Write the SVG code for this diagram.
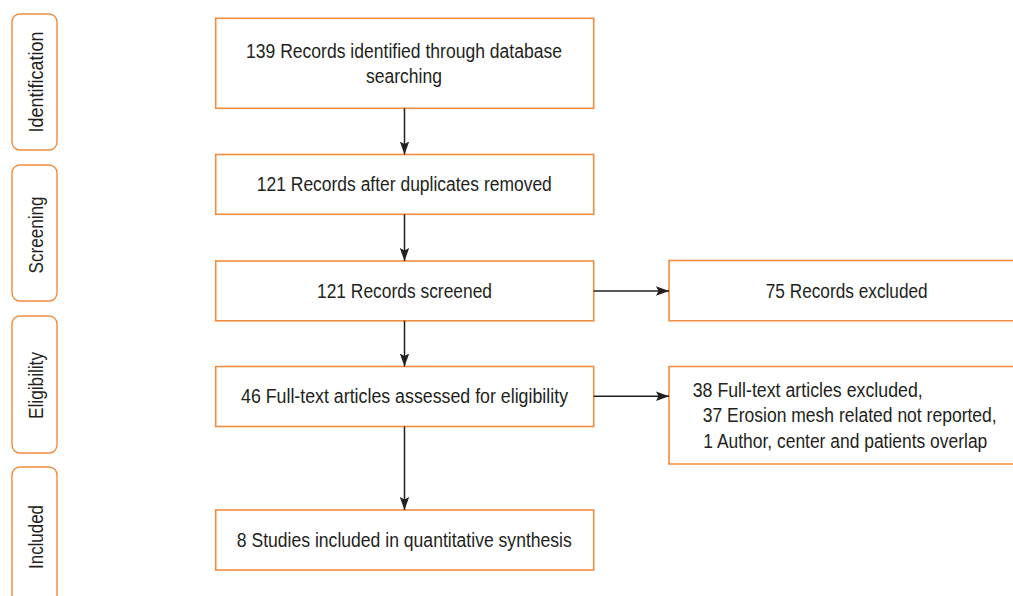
<svg xmlns="http://www.w3.org/2000/svg" width="1013" height="596" viewBox="0 0 1013 596">
  <defs>
    <marker id="arrow" markerWidth="14" markerHeight="10" refX="13" refY="5" orient="auto" markerUnits="userSpaceOnUse">
      <path d="M0,0.3 L13,5 L0,9.7 L2.5,5 Z" fill="#231f20"/>
    </marker>
    <style>
      .box { fill: #ffffff; stroke: #f28c3c; stroke-width: 1.6; }
      .phase { fill: #ffffff; stroke: #f28c3c; stroke-width: 1.4; }
      .t { font-family: "Liberation Sans", Arial, sans-serif; font-size: 21px; fill: #231f20; }
      .c { text-anchor: middle; }
      .conn { stroke: #231f20; stroke-width: 1.5; fill: none; marker-end: url(#arrow); }
    </style>
  </defs>
  <rect width="1013" height="596" fill="#ffffff"/>

  <!-- phase labels (text narrowed horizontally to a condensed look) -->
  <g id="phase-identification">
    <rect class="phase" x="12" y="14" width="45" height="136" rx="8"/>
    <text class="t c" transform="translate(43,82) rotate(-90) scale(0.834,1)" textLength="121.1" lengthAdjust="spacingAndGlyphs">Identification</text>
  </g>
  <g id="phase-screening">
    <rect class="phase" x="12" y="165" width="45" height="136" rx="8"/>
    <text class="t c" transform="translate(43,235) rotate(-90) scale(0.834,1)" textLength="92.3" lengthAdjust="spacingAndGlyphs">Screening</text>
  </g>
  <g id="phase-eligibility">
    <rect class="phase" x="12" y="316" width="45" height="137" rx="8"/>
    <text class="t c" transform="translate(43,385.5) rotate(-90) scale(0.834,1)" textLength="80.3" lengthAdjust="spacingAndGlyphs">Eligibility</text>
  </g>
  <g id="phase-included">
    <rect class="phase" x="12" y="467" width="45" height="150" rx="8"/>
    <text class="t c" transform="translate(43,537) rotate(-90) scale(0.834,1)" textLength="76.7" lengthAdjust="spacingAndGlyphs">Included</text>
  </g>

  <!-- flow boxes -->
  <g id="identified">
    <rect class="box" x="215.7" y="18.3" width="378" height="90"/>
    <text class="t c" transform="translate(404,58.3) scale(0.834,1)" textLength="378.9" lengthAdjust="spacingAndGlyphs">139 Records identified through database</text>
    <text class="t c" transform="translate(404,82.5) scale(0.834,1)" textLength="91.1" lengthAdjust="spacingAndGlyphs">searching</text>
  </g>
  <g id="deduplicated">
    <rect class="box" x="215.7" y="154.5" width="378" height="59.8"/>
    <text class="t c" transform="translate(404.3,190.7) scale(0.834,1)" textLength="353.7" lengthAdjust="spacingAndGlyphs">121 Records after duplicates removed</text>
  </g>
  <g id="screened">
    <rect class="box" x="215.7" y="261" width="378" height="59.8"/>
    <text class="t c" transform="translate(404.5,297.5) scale(0.834,1)" textLength="209.8" lengthAdjust="spacingAndGlyphs">121 Records screened</text>
  </g>
  <g id="assessed">
    <rect class="box" x="215.7" y="366.5" width="378" height="60"/>
    <text class="t c" transform="translate(404.5,403) scale(0.834,1)" textLength="392.1" lengthAdjust="spacingAndGlyphs">46 Full-text articles assessed for eligibility</text>
  </g>
  <g id="included">
    <rect class="box" x="215.7" y="510" width="378" height="60"/>
    <text class="t c" transform="translate(404.3,546.7) scale(0.834,1)" textLength="401.7" lengthAdjust="spacingAndGlyphs">8 Studies included in quantitative synthesis</text>
  </g>
  <!-- the two exclusion boxes run past the right edge, so their right side is not drawn -->
  <g id="records-excluded">
    <path class="box" d="M1013,260.5 H669 V320.7 H1013"/>
    <text class="t c" transform="translate(846.7,298) scale(0.834,1)" textLength="194.2" lengthAdjust="spacingAndGlyphs">75 Records excluded</text>
  </g>
  <g id="articles-excluded">
    <path class="box" d="M1013,366.5 H669 V464 H1013"/>
    <text class="t" transform="translate(692.7,396.7) scale(0.834,1)" textLength="275.8" lengthAdjust="spacingAndGlyphs">38 Full-text articles excluded,</text>
    <text class="t" transform="translate(702.7,422.3) scale(0.834,1)" textLength="352.5" lengthAdjust="spacingAndGlyphs">37 Erosion mesh related not reported,</text>
    <text class="t" transform="translate(703.3,447.8) scale(0.834,1)" textLength="340.5" lengthAdjust="spacingAndGlyphs">1 Author, center and patients overlap</text>
  </g>

  <!-- connectors -->
  <g id="connectors">
    <line class="conn" x1="404.5" y1="108.3" x2="404.5" y2="154.5"/>
    <line class="conn" x1="404.5" y1="214.3" x2="404.5" y2="261"/>
    <line class="conn" x1="404.5" y1="320.8" x2="404.5" y2="366.5"/>
    <line class="conn" x1="404.5" y1="426.5" x2="404.5" y2="510"/>
    <line class="conn" x1="593.7" y1="291" x2="669" y2="291"/>
    <line class="conn" x1="593.7" y1="396.3" x2="669" y2="396.3"/>
  </g>
</svg>
